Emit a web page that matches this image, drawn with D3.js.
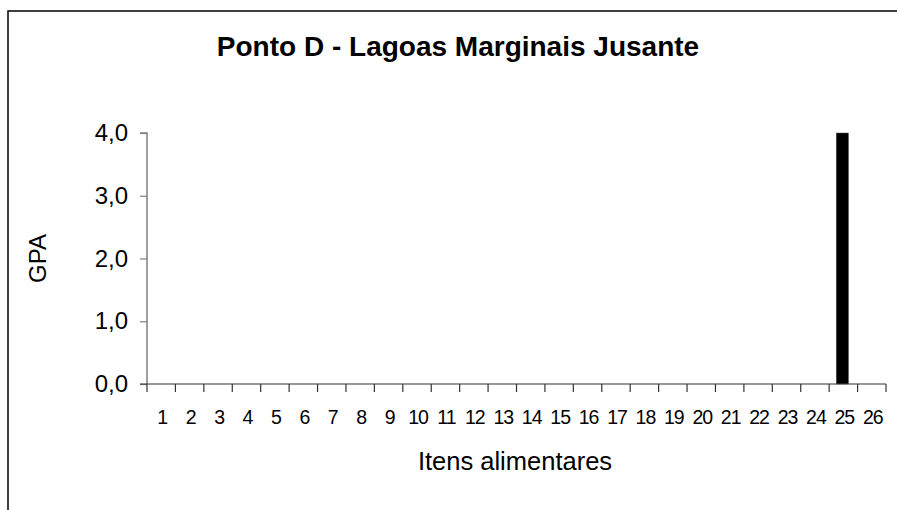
<!DOCTYPE html>
<html>
<head>
<meta charset="utf-8">
<script src="https://cdn.jsdelivr.net/npm/d3@7"></script>
<style>
  html, body { margin: 0; padding: 0; background: #fff; }
  svg { display: block; font-family: "Liberation Sans", Arial, sans-serif; }
</style>
</head>
<body>
<div id="chart"></div>
<script>
"use strict"

// data
const chartTitle = "Ponto D - Lagoas Marginais Jusante";
const yTitle = "GPA";
const xTitle = "Itens alimentares";
const categories = ["1", "2", "3", "4", "5", "6", "7", "8", "9", "10", "11", "12", "13",
    "14", "15", "16", "17", "18", "19", "20", "21", "22", "23", "24", "25", "26"];
const gpaValues = [0, 0, 0, 0, 0, 0, 0, 0, 0, 0, 0, 0, 0,
    0, 0, 0, 0, 0, 0, 0, 0, 0, 0, 0, 4.0, 0];
const yTicks = [0, 1, 2, 3, 4];

const width = 897;
const height = 510;
const plot = { left: 147, right: 886, top: 133, bottom: 384 };

const svg = d3.select("#chart").append("svg")
    .attr("width", width)
    .attr("height", height);

// outer frame (only left and top edges visible)
svg.append("path")
    .attr("d", `M8,${height} V11 H${width}`)
    .attr("fill", "none")
    .attr("stroke", "#000")
    .attr("stroke-width", 1.5);

//----------------------------SCALES----------------------------//
const xScale = d3.scaleBand()
    .domain(categories)
    .range([plot.left, plot.right])
    .paddingInner(0)
    .paddingOuter(0);

const yScale = d3.scaleLinear()
    .domain([0, 4])
    .range([plot.bottom, plot.top]);

//-----------------------------BARS-----------------------------//
const barWidth = xScale.bandwidth() * 0.43;
svg.append("g")
    .selectAll("rect")
    .data(categories.map((c, i) => ({ c, v: gpaValues[i] })).filter(d => d.v > 0))
    .join("rect")
    .attr("x", d => xScale(d.c) + (xScale.bandwidth() - barWidth) / 2 - 1)
    .attr("y", d => yScale(d.v))
    .attr("width", barWidth)
    .attr("height", d => yScale(0) - yScale(d.v))
    .attr("fill", "#000")
    .attr("stroke", "#555")
    .attr("stroke-width", 0.5);

//-----------------------------AXES-----------------------------//
const yaxis = d3.axisLeft(yScale)
    .tickValues(yTicks)
    .tickSize(7)
    .tickPadding(12)
    .tickFormat(d => d3.format(".1f")(d).replace(".", ","));

const yaxisEl = svg.append("g")
    .attr("transform", `translate(${plot.left},0)`)
    .call(yaxis);
yaxisEl.select(".domain").attr("d", `M-7,${plot.top}H0V${plot.bottom}`).attr("stroke", "#808080").attr("stroke-width", 1.5);
yaxisEl.selectAll(".tick line").attr("stroke", "#808080").attr("stroke-width", 1.2);
yaxisEl.selectAll(".tick text")
    .attr("font-size", 24)
    .attr("fill", "#000");

// x axis: ticks on category boundaries
const xaxisEl = svg.append("g")
    .attr("transform", `translate(0,${plot.bottom})`);
xaxisEl.append("line")
    .attr("x1", plot.left - 7).attr("x2", plot.right)
    .attr("stroke", "#333").attr("stroke-width", 1.2);
const boundaries = categories.map(c => xScale(c)).concat([plot.right]);
xaxisEl.selectAll(".bound")
    .data(boundaries)
    .join("line")
    .attr("class", "bound")
    .attr("x1", d => d).attr("x2", d => d)
    .attr("y1", 0).attr("y2", 8)
    .attr("stroke", "#333").attr("stroke-width", 1.2);
xaxisEl.selectAll(".lbl")
    .data(categories)
    .join("text")
    .attr("class", "lbl")
    .attr("x", d => xScale(d) + xScale.bandwidth() / 2 + 1)
    .attr("y", 40)
    .attr("text-anchor", "middle")
    .attr("font-size", 19.5)
    .attr("letter-spacing", -1)
    .text(d => d);

//----------------------------TITLES----------------------------//
svg.append("text")
    .attr("x", 458)
    .attr("y", 56)
    .attr("text-anchor", "middle")
    .attr("font-size", 28)
    .attr("font-weight", "bold")
    .text(chartTitle);

svg.append("text")
    .attr("transform", `translate(46,${(plot.top + plot.bottom) / 2}) rotate(-90)`)
    .attr("text-anchor", "middle")
    .attr("font-size", 24)
    .text(yTitle);

svg.append("text")
    .attr("x", 515)
    .attr("y", 470)
    .attr("text-anchor", "middle")
    .attr("font-size", 25.5)
    .text(xTitle);
</script>
</body>
</html>
